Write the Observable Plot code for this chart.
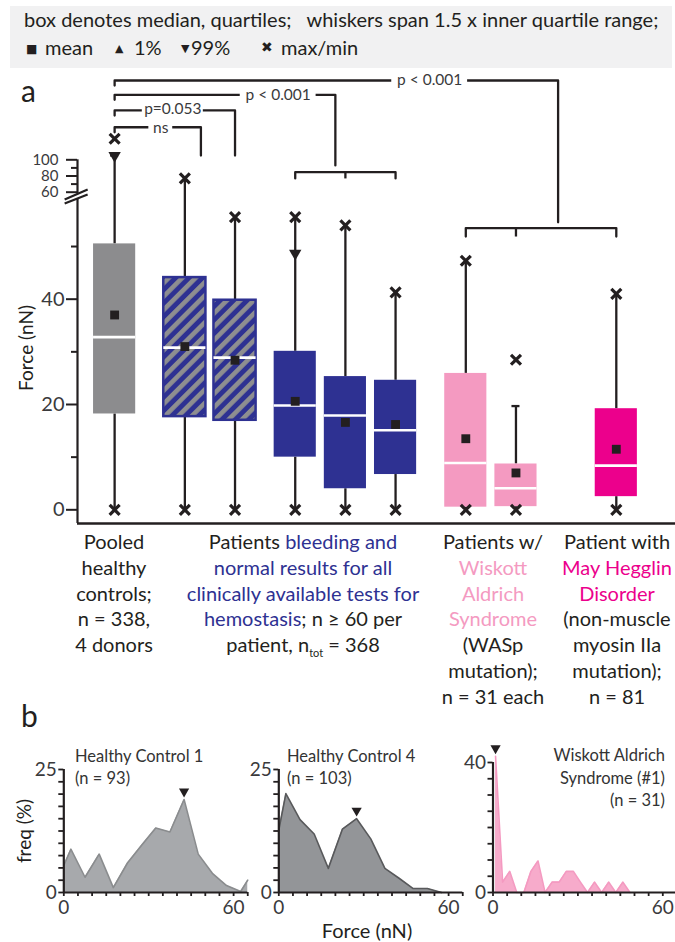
<!DOCTYPE html>
<html><head><meta charset="utf-8">
<script src="https://cdn.jsdelivr.net/npm/d3@7"></script>
<script src="https://cdn.jsdelivr.net/npm/@observablehq/plot@0.6"></script>
<style>
body{margin:0;background:#fff;font-family:Lato,"DejaVu Sans",sans-serif;color:#231f20;}
#root{position:relative;width:675px;height:942px;overflow:hidden;background:#fff;}
.abs{position:absolute;white-space:nowrap;}
#legend{left:10px;top:6px;width:662px;height:62px;background:#f1f1f2;font-size:20px;line-height:24px;z-index:2;}
.sym{font-family:"DejaVu Sans";}
.blk{position:absolute;text-align:center;font-size:20px;line-height:25.8px;white-space:nowrap;transform:translateX(-50%);}
.blue{color:#2e3192}.pink{color:#f49ac1}.mag{color:#ec008c}
svg.plt{position:absolute;left:0;}
.ttl{position:absolute;font-size:16.5px;line-height:21.5px;white-space:nowrap;color:#333;}
</style></head><body><div id="root">
<div id="legend" class="abs">
  <span class="abs" style="left:14px;top:1px">box denotes median, quartiles;&nbsp;&nbsp; whiskers span 1.5 x inner quartile range;</span>
  <span class="abs sym" style="left:16px;top:31px;font-size:12px">■</span>
  <span class="abs" style="left:35px;top:29px">mean</span>
  <span class="abs sym" style="left:105px;top:31px;font-size:11px">▲</span>
  <span class="abs" style="left:124px;top:29px">1%</span>
  <span class="abs sym" style="left:171px;top:31px;font-size:11px">▼</span>
  <span class="abs" style="left:181px;top:29px">99%</span>
  <span class="abs sym" style="left:251px;top:29px;font-size:14px">✖</span>
  <span class="abs" style="left:271px;top:29px">max/min</span>
</div>
<div class="abs" style="left:21px;top:72px;font-size:30px">a</div>
<div class="abs" style="left:21px;top:697px;font-size:30px">b</div>
<div class="abs" style="left:25px;top:348px;font-size:19px;transform:translate(-50%,-50%) rotate(-90deg)">Force (nN)</div>
<div class="abs" style="left:23px;top:831px;font-size:19px;transform:translate(-50%,-50%) rotate(-90deg)">freq (%)</div>
<div class="abs" style="left:367px;top:930px;font-size:20px;transform:translate(-50%,-50%)">Force (nN)</div>

<div class="blk" style="left:114px;top:529px">Pooled<br>healthy<br>controls;<br>n = 338,<br>4 donors</div>
<div class="blk" style="left:303px;top:529px">Patients <span class="blue">bleeding and</span><br><span class="blue">normal results for all</span><br><span class="blue">clinically available tests for</span><br><span class="blue">hemostasis</span>; n ≥ 60 per<br>patient, n<sub style="font-size:11px">tot</sub> = 368</div>
<div class="blk" style="left:493px;top:529px">Patients w/<br><span class="pink">Wiskott<br>Aldrich<br>Syndrome</span><br>(WASp<br>mutation);<br>n = 31 each</div>
<div class="blk" style="left:617px;top:529px">Patient with<br><span class="mag">May Hegglin<br>Disorder</span><br>(non-muscle<br>myosin IIa<br>mutation);<br>n = 81</div>

<div class="ttl" style="left:75px;top:746px">Healthy Control 1<br>(n = 93)</div>
<div class="ttl" style="left:287px;top:746px">Healthy Control 4<br>(n = 103)</div>
<div class="ttl" style="right:10px;top:744px;text-align:right;line-height:22.5px">Wiskott Aldrich<br>Syndrome (#1)<br>(n = 31)</div>
</div>
<script>
// ---------- data: panel a (force, nN) ----------
const categories = ["Pooled healthy controls", "Patient 1", "Patient 2", "Patient 3", "Patient 4", "Patient 5", "WAS patient 1", "WAS patient 2", "May Hegglin patient"];
const kind       = ["healthy", "hatched", "hatched", "bleeding", "bleeding", "bleeding", "was", "was", "mhd"];
const q1         = [18.2, 17.7, 17.0, 10.0, 4.0, 6.7, 0.5, 0.6, 2.5];
const median     = [32.8, 30.8, 28.9, 19.8, 17.9, 15.1, 8.9, 4.1, 8.4];
const q3         = [50.5, 44.1, 39.8, 30.1, 25.3, 24.6, 25.9, 8.7, 19.2];
const mean       = [37.0, 31.0, 28.4, 20.6, 16.6, 16.2, 13.5, 7.0, 11.5];
const whiskerTop = [105.3, 77, 55.6, 55.6, 54.0, 41.3, 47.3, 19.7, 41.0];
const maxVal     = [126, 77, 55.6, 55.6, 54.0, 41.3, 47.3, 28.5, 41.0];
const minVal     = [0, 0, 0, 0, 0, 0, 0, 0, 0];
const p99        = [105.3, null, null, 48.7, null, null, null, null, null];
const tickLow    = [0, 10, 20, 30, 40, 50];
const tickHigh   = [60, 70, 80, 90, 100];
const bracketLabels = ["ns", "p=0.053", "p < 0.001", "p < 0.001"];

// ---------- data: panel b (frequency, %) ----------
const hc1Force = [0, 2.5, 7.5, 12.5, 17.5, 22.5, 27.5, 32.5, 37.5, 42.5, 47.5, 52.5, 57.5, 62.5, 65];
const hc1Freq  = [5.5, 8.8, 3.1, 7.8, 1.0, 6.0, 9.6, 13.1, 12.3, 18.9, 7.8, 3.9, 1.4, 0.2, 2.5];
const hc1Mark  = 42.5;
const hc4Force = [0, 2.5, 7.5, 12.5, 17.5, 22.5, 27.5, 32.5, 37.5, 42.5, 47.5, 52.5, 57.5];
const hc4Freq  = [12.7, 20.1, 14.8, 11.9, 4.9, 12.9, 15.0, 10.9, 4.9, 2.9, 0.8, 0.8, 0];
const hc4Mark  = 27.5;
const wasForce = [0.9, 3.4, 5.9, 8.4, 10.9, 13.4, 15.9, 18.4, 20.9, 23.4, 25.9, 28.4, 30.9, 33.4, 35.9, 38.4, 40.9, 43.4, 45.9, 48.4];
const wasFreq  = [41.9, 3.2, 6.5, 0, 0, 6.5, 9.7, 0, 3.2, 3.2, 6.5, 6.5, 3.2, 0, 3.2, 0, 3.2, 0, 3.2, 0];
const wasMark  = 0.9;

// ---------- layout (slot units along x) ----------
const slot = [0, 7, 12, 18, 23, 28, 35, 40, 50];
const HW = 2.1;
const X0 = -3.7, X1 = 55.9;
const fills = {healthy: "#8c8c8e", hatched: "url(#hatch)", bleeding: "#2e3192", was: "#f49ac1", mhd: "#ec008c"};
const INK = "#231f20";

const rows = categories.map((c, i) => ({c, kind: kind[i], slot: slot[i], q1: q1[i], median: median[i], q3: q3[i],
  mean: mean[i], wt: whiskerTop[i], max: maxVal[i], min: minVal[i], p99: p99[i]}));

const bracketGeom = [
  {level: 140.2, end: 8.6, drop: 105.3, text: 4.6, dy: 1.2},
  {level: 160.9, end: slot[2], drop: 105.3, text: 5.8, dy: -1.2},
  {level: 180.2, end: 22, drop: 93, text: 16.3, dy: 0, group: [3, 4, 5], gLevel: 84.7, gTick: 77},
  {level: 197.9, end: 44.2, drop: 54.6, text: 31.4, dy: 0, group: [6, 7, 8], gLevel: 53.5, gTick: 51.9}
];
const bracketPts = [];
const groupTicks = [];
bracketGeom.forEach((b, i) => {
  [[0, b.level - 6.2], [0, b.level], [b.end, b.level], [b.end, b.drop]].forEach(([x, y]) => bracketPts.push({z: "b" + i, x, y}));
  if (b.group) {
    const g = b.group.map(k => slot[k]);
    [[g[0], b.gTick], [g[0], b.gLevel], [g[2], b.gLevel], [g[2], b.gTick]].forEach(([x, y]) => bracketPts.push({z: "g" + i, x, y}));
    groupTicks.push({x: g[1], y1: b.gLevel, y2: b.gTick});
  }
});
const bracketText = bracketGeom.map((b, i) => ({x: b.text, y: b.level, dy: b.dy, label: bracketLabels[i],
  w: bracketLabels[i].length * 0.74 + 0.9}));

const plotA = Plot.plot({
  width: 675, height: 530,
  marginLeft: 77, marginRight: 0, marginTop: 0, marginBottom: 7,
  style: {background: "transparent", fontFamily: "Lato, sans-serif", color: INK, overflow: "visible"},
  x: {type: "linear", domain: [X0, X1], axis: null},
  y: {type: "linear", domain: [-2.6, 58, 60, 200], range: [523, 203.9, 191.7, 78.3], axis: null},
  color: {type: "identity"},
  marks: [
    Plot.ruleY([-2.6], {stroke: INK, strokeWidth: 2.6}),
    Plot.ruleX([X0], {y1: -2.6, y2: 58.98, stroke: INK, strokeWidth: 2.2}),
    Plot.ruleX([X0], {y1: 59.7, y2: 100, stroke: INK, strokeWidth: 2.2}),
    Plot.link([{x1: -4.98, y1: 58.8, x2: -2.69, y2: 63.3}, {x1: -4.98, y1: 58.15, x2: -2.69, y2: 59.62}],
      {x1: "x1", y1: "y1", x2: "x2", y2: "y2", stroke: INK, strokeWidth: 2.2}),
    Plot.axisY({ticks: tickLow.filter(t => t % 20 === 0), tickSize: 11, tickPadding: 2, fontSize: 20, strokeWidth: 2, label: null, tickFormat: d => d, fill: "#3a3a3c"}),
    Plot.axisY({ticks: tickLow.filter(t => t % 20 !== 0), tickSize: 6, strokeWidth: 2, label: null, tickFormat: () => ""}),
    Plot.axisY({ticks: tickHigh.filter(t => t % 20 === 0), tickSize: 11, tickPadding: 8, fontSize: 15, strokeWidth: 2, label: null, tickFormat: d => d, fill: "#3a3a3c"}),
    Plot.axisY({ticks: tickHigh.filter(t => t % 20 !== 0), tickSize: 6, strokeWidth: 2, label: null, tickFormat: () => ""}),
    // whiskers
    Plot.ruleX(rows, {x: "slot", y1: "min", y2: "q1", stroke: INK, strokeWidth: 2.3}),
    Plot.ruleX(rows, {x: "slot", y1: "q3", y2: "wt", stroke: INK, strokeWidth: 2.3}),
    Plot.ruleY(rows.filter(d => d.wt < d.max), {y: "wt", x1: d => d.slot - 0.4, x2: d => d.slot + 0.4, stroke: INK, strokeWidth: 2.3}),
    // boxes
    Plot.rect(rows, {x1: d => d.slot - HW, x2: d => d.slot + HW, y1: "q1", y2: "q3", fill: d => fills[d.kind],
      stroke: d => d.kind === "hatched" ? "#2e3192" : "none", strokeWidth: 2.5}),
    Plot.ruleY(rows, {y: "median", x1: d => d.slot - HW, x2: d => d.slot + HW, stroke: "white", strokeWidth: 2.6}),
    Plot.dot(rows, {x: "slot", y: "mean", symbol: "square", r: 5, fill: INK, stroke: "none"}),
    Plot.dot(rows.filter(d => d.p99 != null), {x: "slot", y: "p99", symbol: "triangle", rotate: 180, r: 4.6, fill: INK, stroke: "none"}),
    Plot.dot(rows, {x: "slot", y: "max", symbol: "times", r: 4.6, stroke: INK, strokeWidth: 3.2}),
    Plot.dot(rows, {x: "slot", y: "min", symbol: "times", r: 4.6, stroke: INK, strokeWidth: 3.2}),
    // significance brackets
    Plot.line(bracketPts, {x: "x", y: "y", z: "z", stroke: INK, strokeWidth: 2.3, curve: "linear"}),
    Plot.link(groupTicks, {x1: "x", x2: "x", y1: "y1", y2: "y2", stroke: INK, strokeWidth: 2.3}),
    Plot.rect(bracketText, {x1: d => d.x - d.w / 2, x2: d => d.x + d.w / 2, y1: d => d.y - 4, y2: d => d.y + 4, fill: "white"}),
    ...bracketText.map(t => Plot.text([t], {x: "x", y: "y", dy: t.dy, text: "label", fontSize: 15.5, fill: "#3a3a3c"}))
  ]
});
plotA.classList.add("plt");
plotA.style.top = "0px";
plotA.insertAdjacentHTML("afterbegin",
  '<defs><pattern id="hatch" patternUnits="userSpaceOnUse" width="9.5" height="9.5" patternTransform="rotate(45)">' +
  '<rect width="9.5" height="9.5" fill="#2e3192"/><rect width="4.6" height="9.5" fill="#8e8e90"/></pattern></defs>');
document.getElementById("root").appendChild(plotA);

// ---------- panel b ----------
function hist(force, freq, mark, o) {
  const data = force.map((x, i) => ({x, y: freq[i]}));
  const peak = data.find(d => d.x === mark);
  const svg = Plot.plot({
    width: 675, height: 200,
    marginLeft: o.left, marginRight: 675 - o.left - 65 * 2.83, marginTop: o.top, marginBottom: 48,
    style: {background: "transparent", fontFamily: "Lato, sans-serif", color: INK, overflow: "visible"},
    x: {domain: [0, 65], axis: null},
    y: {domain: [0, o.ymax], axis: null},
    marks: [
      Plot.areaY(data, {x: "x", y: "y", fill: o.fill, curve: "linear"}),
      Plot.lineY(data, {x: "x", y: "y", stroke: o.line, strokeWidth: 1.6, curve: "linear"}),
      Plot.ruleX([0], {y1: 0, y2: o.ymax, stroke: INK, strokeWidth: 2.2}),
      Plot.ruleY([0], {x1: 0, x2: 65, stroke: INK, strokeWidth: 2.2}),
      Plot.axisY({ticks: d3.range(0, o.ymax + 0.01, o.ystep), tickSize: 5, tickPadding: 2, fontSize: 19, strokeWidth: 1.8, label: null,
        tickFormat: d => (d === 0 || d === o.ymax) ? d : "", fill: "#3a3a3c"}),
      Plot.axisX({ticks: d3.range(0, 65.01, 5), tickSize: 4, tickPadding: 4, fontSize: 19, strokeWidth: 1.8, label: null,
        tickFormat: d => (d === 0 || d === 60) ? d : "", fill: "#3a3a3c"}),
      Plot.dot([peak], {x: "x", y: "y", dy: -8, symbol: "triangle", rotate: 180, r: 3.8, fill: INK, stroke: "none"})
    ]
  });
  svg.classList.add("plt");
  svg.style.top = "740px";
  document.getElementById("root").appendChild(svg);
}
hist(hc1Force, hc1Freq, hc1Mark, {left: 63.3, top: 29, ymax: 25, ystep: 2.5, fill: "#a7a9ac", line: "#8a8c8e"});
hist(hc4Force, hc4Freq, hc4Mark, {left: 278.3, top: 29, ymax: 25, ystep: 2.5, fill: "#939598", line: "#58595b"});
hist(wasForce, wasFreq, wasMark, {left: 492.5, top: 22, ymax: 40, ystep: 5, fill: "#f7abcb", line: "#f49ac1"});
</script>
</body></html>
